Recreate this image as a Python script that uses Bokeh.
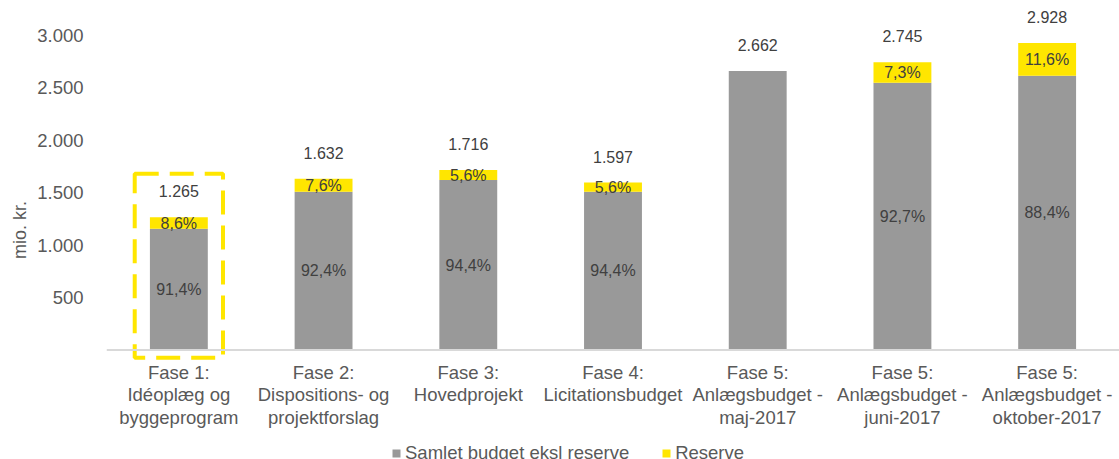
from bokeh.plotting import figure
from bokeh.models import ColumnDataSource, FixedTicker, Span, Legend, LegendItem
from bokeh.core.properties import value
from bokeh.embed import file_html
from bokeh.resources import INLINE

categories = [
    "Fase 1:\nIdéoplæg og\nbyggeprogram",
    "Fase 2:\nDispositions- og\nprojektforslag",
    "Fase 3:\nHovedprojekt",
    "Fase 4:\nLicitationsbudget",
    "Fase 5:\nAnlægsbudget -\nmaj-2017",
    "Fase 5:\nAnlægsbudget -\njuni-2017",
    "Fase 5:\nAnlægsbudget -\noktober-2017",
]
base = [1156, 1510, 1620, 1508, 2662, 2550, 2615]
reserve = [109, 122, 96, 89, 0, 195, 313]
total_labels = ["1.265", "1.632", "1.716", "1.597", "2.662", "2.745", "2.928"]
base_pct = ["91,4%", "92,4%", "94,4%", "94,4%", "", "92,7%", "88,4%"]
reserve_pct = ["8,6%", "7,6%", "5,6%", "5,6%", "", "7,3%", "11,6%"]
y_ticks = [500, 1000, 1500, 2000, 2500, 3000]
y_tick_labels = ["500", "1.000", "1.500", "2.000", "2.500", "3.000"]
series_names = ["Samlet budget eksl reserve", "Reserve"]

# highlight box around the first phase (data units)
box_bottom, box_top, box_width = -75, 1680, 0.61

GRAY = "#999999"
YELLOW = "#ffe600"
FONT = "Liberation Sans"
TXT = "#595959"
DARK = "#404040"

total = [b + r for b, r in zip(base, reserve)]
src = ColumnDataSource(dict(
    x=categories, base=base, reserve=reserve, total=total,
    base_mid=[b / 2 for b in base],
    res_mid=[b + r / 2 for b, r in zip(base, reserve)],
    zero=[0] * len(categories),
    total_labels=total_labels, base_pct=base_pct, reserve_pct=reserve_pct,
))

p = figure(x_range=categories, y_range=(-1046, 3334), width=1119, height=459,
           output_backend="svg", toolbar_location=None,
           min_border_left=106, min_border_right=0, min_border_top=0, min_border_bottom=0)
p.outline_line_color = None
p.xgrid.grid_line_color = None
p.ygrid.grid_line_color = None
p.xaxis.visible = False

r_base = p.vbar(x="x", top="base", bottom=0, width=0.4, source=src,
                fill_color=GRAY, line_color=None)
r_res = p.vbar(x="x", top="total", bottom="base", width=0.4, source=src,
               fill_color=YELLOW, line_color=None)

p.add_layout(Span(location=0, dimension="width", line_color="#d9d9d9", line_width=2))

p.text(x="x", y="total", text="total_labels", source=src, text_align="center",
       text_baseline="middle", y_offset=-26, text_font=value(FONT),
       text_font_size="16px", text_color=DARK)
p.text(x="x", y="base_mid", text="base_pct", source=src, text_align="center",
       text_baseline="middle", text_font=value(FONT),
       text_font_size="16px", text_color=DARK)
p.text(x="x", y="res_mid", text="reserve_pct", source=src, text_align="center",
       text_baseline="middle", text_font=value(FONT),
       text_font_size="16px", text_color=DARK)

# category labels under the baseline
p.text(x="x", y="zero", text="x", source=src, text_align="center",
       text_baseline="top", y_offset=12, text_font=value(FONT),
       text_font_size="18.5px", text_color=TXT, text_line_height=1.07)

p.rect(x=[categories[0]], y=[(box_bottom + box_top) / 2], width=box_width,
       height=box_top - box_bottom, fill_color=None, line_color=YELLOW,
       line_width=4, line_dash="24 11")

# y axis
p.yaxis.ticker = FixedTicker(ticks=y_ticks)
p.yaxis.major_label_overrides = {t: l for t, l in zip(y_ticks, y_tick_labels)}
p.yaxis.axis_line_color = None
p.yaxis.major_tick_line_color = None
p.yaxis.minor_tick_line_color = None
p.yaxis.major_tick_out = 0
p.yaxis.major_label_standoff = 23
p.yaxis.major_label_text_font = FONT
p.yaxis.major_label_text_font_size = "18.5px"
p.yaxis.major_label_text_color = TXT
p.yaxis.axis_label = "mio. kr."
p.yaxis.axis_label_text_font = FONT
p.yaxis.axis_label_text_font_size = "18px"
p.yaxis.axis_label_text_font_style = "normal"
p.yaxis.axis_label_text_color = TXT
p.yaxis.axis_label_standoff = 4

legend = Legend(items=[LegendItem(label=series_names[0], renderers=[r_base]),
                       LegendItem(label=series_names[1], renderers=[r_res])],
                orientation="horizontal", location=(285, -5),
                glyph_width=10, glyph_height=10, label_standoff=4, spacing=32,
                padding=0, margin=0, border_line_color=None, background_fill_alpha=0,
                label_text_font=FONT, label_text_font_size="18.5px",
                label_text_color=TXT)
p.add_layout(legend, "center")

open("out.html", "w").write(file_html(p, INLINE))
